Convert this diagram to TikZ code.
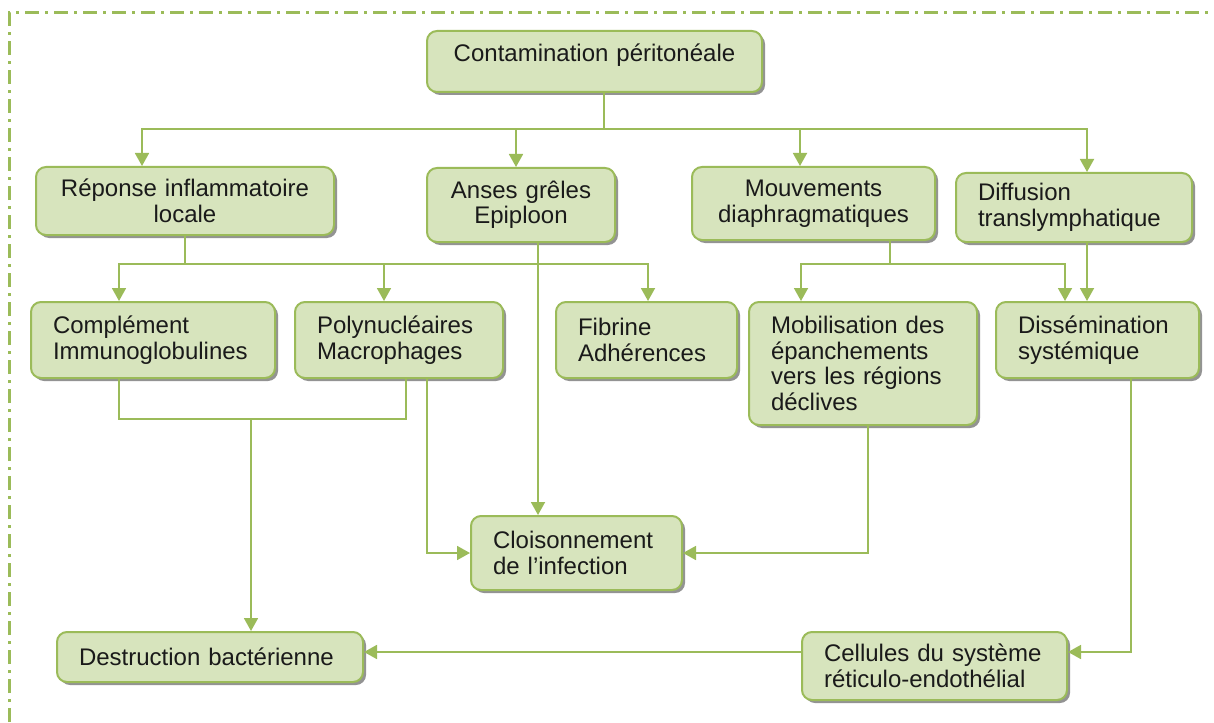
\documentclass[tikz,border=0pt]{standalone}
\usepackage{fontspec}
\setmainfont{Liberation Sans}
\usepackage{tikz}
\usetikzlibrary{arrows.meta, shadows}

\definecolor{verdeBordo}{HTML}{9BBB59}
\definecolor{verdeFondo}{HTML}{D7E4BD}
\definecolor{testoScuro}{HTML}{1A1A1A}

\begin{document}
\begin{tikzpicture}[
        x=1pt, y=-1pt,                  % 1 unita = 1 pixel, asse y verso il basso
        >={Triangle[length=13pt, width=14pt]}, % Punta triangolare piena
        font=\fontsize{24}{25.5}\selectfont,
        blocco/.style={                 % Stile comune dei riquadri
            draw=verdeBordo,
            line width=2pt,
            fill=verdeFondo,
            rounded corners=10pt,
            text=testoScuro,
            inner ysep=4pt,
            drop shadow={shadow xshift=3pt, shadow yshift=-3pt,
                         fill=black!65, opacity=.65}
        },
        bloccoC/.style={blocco, align=center, inner xsep=10pt}, % Testo centrato
        bloccoL/.style={blocco, align=left, inner xsep=22pt},   % Testo a sinistra
        connettore/.style={draw=verdeBordo, line width=1.8pt},
        freccia/.style={connettore, ->},
        cornice/.style={draw=verdeBordo, line width=3pt,
                        dash pattern=on 14pt off 6pt on 3pt off 6pt}
    ]

    \useasboundingbox (0,0) rectangle (1214,722);

    % --- Cornice tratto-punto ---
    \draw[cornice] (9,722) -- (9,13) -- (1214,13);

    % --- Definizione dei Riquadri ---

    % 1. Livello superiore
    \node[bloccoC, text width=315pt, minimum height=61pt,
          text height=17pt, text depth=16pt] (conta) at (594.5,61.5) {Contamination péritonéale};

    % 2. Secondo livello
    \node[bloccoC, text width=278pt, minimum height=68pt] (reponse) at (185,201) {Réponse inflammatoire\\locale};
    \node[bloccoC, text width=168pt, minimum height=74pt] (anses) at (521,205) {Anses grêles\\Epiploon};
    \node[bloccoC, text width=223pt, minimum height=73pt] (mouv) at (813.5,203.5) {Mouvements\\diaphragmatiques};
    \node[bloccoL, text width=192pt, minimum height=69pt] (diffu) at (1074,207.5) {Diffusion\\translymphatique};

    % 3. Terzo livello
    \node[bloccoL, text width=200pt, minimum height=76pt] (compl) at (153,340) {Complément\\Immunoglobulines};
    \node[bloccoL, text width=164pt, minimum height=76pt] (poly) at (399,340) {Polynucléaires\\Macrophages};
    \node[bloccoL, text width=137pt, minimum height=76pt] (fibr) at (646.5,340) {Fibrine\\Adhérences};
    \node[bloccoL, text width=184pt, minimum height=123pt] (mobil) at (863,363.5) {Mobilisation des\\épanchements\\vers les régions\\déclives};
    \node[bloccoL, text width=159pt, minimum height=76pt] (disse) at (1097.5,340) {Dissémination\\systémique};

    % 4. Livelli inferiori
    \node[bloccoL, text width=167pt, minimum height=74pt] (cloi) at (576.5,553) {Cloisonnement\\de l’infection};
    \node[bloccoL, text width=262pt, minimum height=50pt] (destr) at (210,657) {Destruction bactérienne};
    \node[bloccoL, text width=221pt, minimum height=68pt] (cell) at (934.5,666) {Cellules du système\\réticulo-endothélial};

    % --- Punti di diramazione ---
    \coordinate (nodo1) at (604,129);
    \coordinate (nodo2) at (185,264);
    \coordinate (nodo3) at (890,264);
    \coordinate (nodo4) at (251,419);

    % --- Collegamenti (Frecce) ---

    % 1. Contamination -> secondo livello
    \draw[connettore] (conta.south -| nodo1) -- (nodo1);
    \draw[freccia] (nodo1) -| ([xshift=-43pt]reponse.north);
    \draw[freccia] (nodo1) -| ([xshift=-5pt]anses.north);
    \draw[freccia] (nodo1) -| ([xshift=-13.5pt]mouv.north);
    \draw[freccia] (nodo1) -| ([xshift=13pt]diffu.north);

    % 2. Reponse -> terzo livello
    \draw[connettore] (reponse.south) -- (nodo2);
    \draw[freccia] (nodo2) -| ([xshift=-34pt]compl.north);
    \draw[freccia] (nodo2) -| ([xshift=-15pt]poly.north);
    \draw[freccia] (nodo2) -| ([xshift=1.5pt]fibr.north);

    % 3. Anses -> Cloisonnement
    \draw[freccia] ([xshift=17pt]anses.south) -- ([xshift=17pt]anses.south |- cloi.north);

    % 4. Mouvements -> Mobilisation, Dissemination
    \draw[connettore] (mouv.south -| nodo3) -- (nodo3);
    \draw[freccia] (nodo3) -| ([xshift=-62pt]mobil.north);
    \draw[freccia] (nodo3) -| ([xshift=-32.5pt]disse.north);

    % 5. Diffusion -> Dissemination
    \draw[freccia] ([xshift=13pt]diffu.south) -- ([xshift=13pt]diffu.south |- disse.north);

    % 6. Complement + Polynucleaires -> Destruction
    \draw[connettore] ([xshift=-34pt]compl.south) |- (nodo4) -| ([xshift=7pt]poly.south);
    \draw[freccia] (nodo4) -- (nodo4 |- destr.north);

    % 7. Verso Cloisonnement
    \draw[freccia] ([xshift=28pt]poly.south) |- (cloi.west);
    \draw[freccia] ([xshift=5pt]mobil.south) |- (cloi.east);

    % 8. Dissemination -> Cellules -> Destruction
    \draw[freccia] ([xshift=33.5pt]disse.south) |- ([yshift=14pt]cell.east);
    \draw[freccia] ([yshift=14pt]cell.west) -- ([yshift=14pt]cell.west -| destr.east);

\end{tikzpicture}
\end{document}
